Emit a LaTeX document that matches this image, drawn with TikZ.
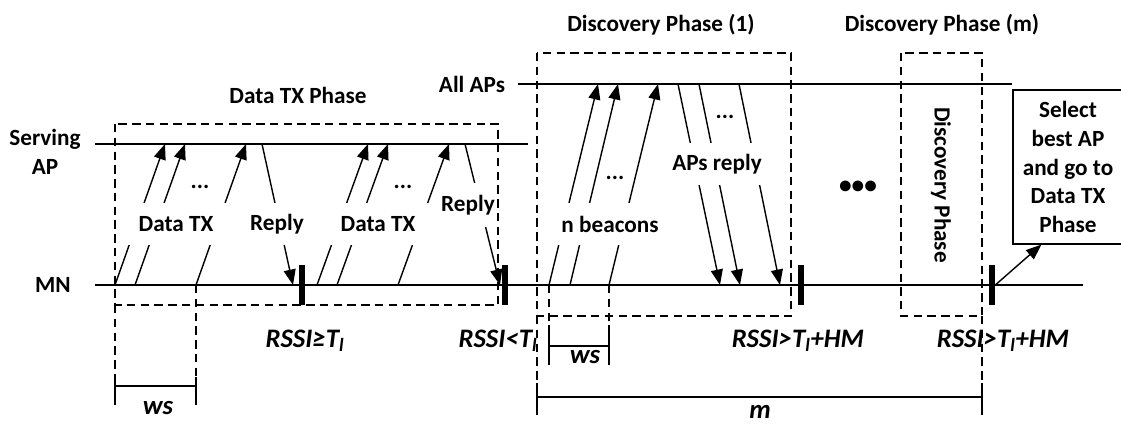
\documentclass[tikz,border=0pt]{standalone}
\usepackage{fontspec}
\setmainfont{Carlito}
\usetikzlibrary{arrows.meta,calc}

\begin{document}
\begin{tikzpicture}[
    x=0.025cm, y=-0.025cm,
    >={Triangle[length=11pt,width=8.5pt]},
    font=\bfseries\fontsize{16.5}{20.3}\selectfont,
    axis/.style={line width=1pt},
    msg/.style={->, line width=1pt},
    phase/.style={line width=1.8pt, dash pattern=on 6pt off 3.8pt},
    tick/.style={line width=1.1pt},
    lbl/.style={fill=white, inner sep=0pt, minimum height=1.05cm},
    cond/.style={anchor=base, inner sep=0.5pt, font=\bfseries\itshape\fontsize{19}{22}\selectfont},
    bar/.style={fill=black, inner sep=0pt, minimum width=0.15cm, minimum height=1cm}
]
    \useasboundingbox (0,0) rectangle (1121,424);

    % time lines
    \node[align=center] (sap) at (45,152) {Serving\\AP};
    \node (allap) at (472,84) {All APs};
    \node (mn) at (53,285) {MN};
    \coordinate (sapL) at (95,144);
    \coordinate (sapR) at (528,144);
    \coordinate (apL) at (518,84);
    \coordinate (apR) at (1012,84);
    \coordinate (mnL) at (95,285);
    \coordinate (mnR) at (1083,285);
    \draw[axis] (sapL) -- (sapR);
    \draw[axis] (apL) -- (apR);
    \draw[axis] (mnL) -- (mnR);

    % phases
    \draw[phase] (115,124) rectangle (498,305);
    \draw[phase] (537,53) rectangle (791,316);
    \draw[phase] (901,53) rectangle (982,316);
    \node (dtxp) at (298,95) {Data TX Phase};
    \node (dp1) at (661,25) {Discovery Phase (1)};
    \node (dpm) at (942,25) {Discovery Phase (m)};
    \node[rotate=-90] (dpin) at (941,185) {Discovery Phase};

    % RSSI checks
    \node[bar] (chk1) at (302,285) {};
    \node[bar] (chk2) at (505,285) {};
    \node[bar] (chk3) at (801,285) {};
    \node[bar] (chk4) at (992,285) {};

    % data frames and replies
    \foreach \a/\b [count=\i] in {115/165, 135/185, 196/246, 317/368, 337/388, 398/449}
    {
        \coordinate (tx\i) at (\a,285);
        \coordinate (rx\i) at (\b,144);
        \draw[msg] (tx\i) -- (rx\i);
    }
    \coordinate (rp1a) at (262,144);
    \coordinate (rp1b) at (293,285);
    \coordinate (rp2a) at (465,144);
    \coordinate (rp2b) at (500,285);
    \draw[msg] (rp1a) -- (rp1b);
    \draw[msg] (rp2a) -- (rp2b);

    % beacons and AP replies
    \foreach \a/\b [count=\i] in {549/598, 570/618, 609/658}
    {
        \coordinate (bc\i) at (\a,285);
        \coordinate (bd\i) at (\b,84);
        \draw[msg] (bc\i) -- (bd\i);
    }
    \foreach \a/\b [count=\i] in {678/720, 699/740, 739/780}
    {
        \coordinate (ra\i) at (\a,84);
        \coordinate (rb\i) at (\b,285);
        \draw[msg] (ra\i) -- (rb\i);
    }

    \node[lbl, minimum width=2.6cm] (dtx1) at (176,224) {Data TX};
    \node[lbl, minimum width=2.55cm] (dtx2) at (378,224) {Data TX};
    \node[lbl, minimum width=1.45cm] (rep1) at (277,224) {Reply};
    \node[lbl, minimum width=1.45cm, minimum height=1.1cm] (rep2) at (468,205) {Reply};
    \node[lbl, minimum width=2.65cm] (nbc) at (610,224) {n beacons};
    \node[lbl, minimum width=2.4cm] (apr) at (717,164) {APs reply};

    \node (dots1) at (200,187) {...};
    \node (dots2) at (403,187) {...};
    \node (dots3) at (615,178) {...};
    \node (dots4) at (725,117) {...};
    \node[font=\bfseries\fontsize{18}{18}\selectfont] (more) at (858,187) {•••};

    % handover
    \node[draw, line width=0.8pt, align=center, inner sep=0pt,
        minimum width=2.75cm, minimum height=3.85cm] (sel) at (1068,167)
        {Select\\best AP\\and go to\\Data TX\\Phase};
    \draw[msg] (chk4.east) -- ($(sel.south west)+(29,0)$);

    % conditions
    \node[cond] (c1) at (305,347) {RSSI≥T\textsubscript{l}};
    \node[cond] (c2) at (498,347) {RSSI<T\textsubscript{l}};
    \node[cond] (c3) at (798,347) {RSSI>T\textsubscript{l}+HM};
    \node[cond] (c4) at (1003,347) {RSSI>T\textsubscript{l}+HM};

    % ws and m spans
    \draw[phase] (115,305) -- (115,377);
    \draw[phase] (196,285) -- (196,377);
    \draw[tick] (115,377) -- (115,405) (196,377) -- (196,405) (115,386) -- (196,386);
    \node[cond] (ws1) at (158,414) {ws};

    \draw[phase] (549,285) -- (549,325);
    \draw[phase] (609,285) -- (609,325);
    \draw[tick] (549,325) -- (549,365) (609,325) -- (609,365) (549,346) -- (609,346);
    \node[cond] (ws2) at (585,363) {ws};

    \draw[phase] (537,316) -- (537,383);
    \draw[phase] (982,316) -- (982,383);
    \draw[tick] (537,383) -- (537,415) (982,383) -- (982,415) (537,397) -- (982,397);
    \node[cond] (mlbl) at (760,418) {m};
\end{tikzpicture}
\end{document}
